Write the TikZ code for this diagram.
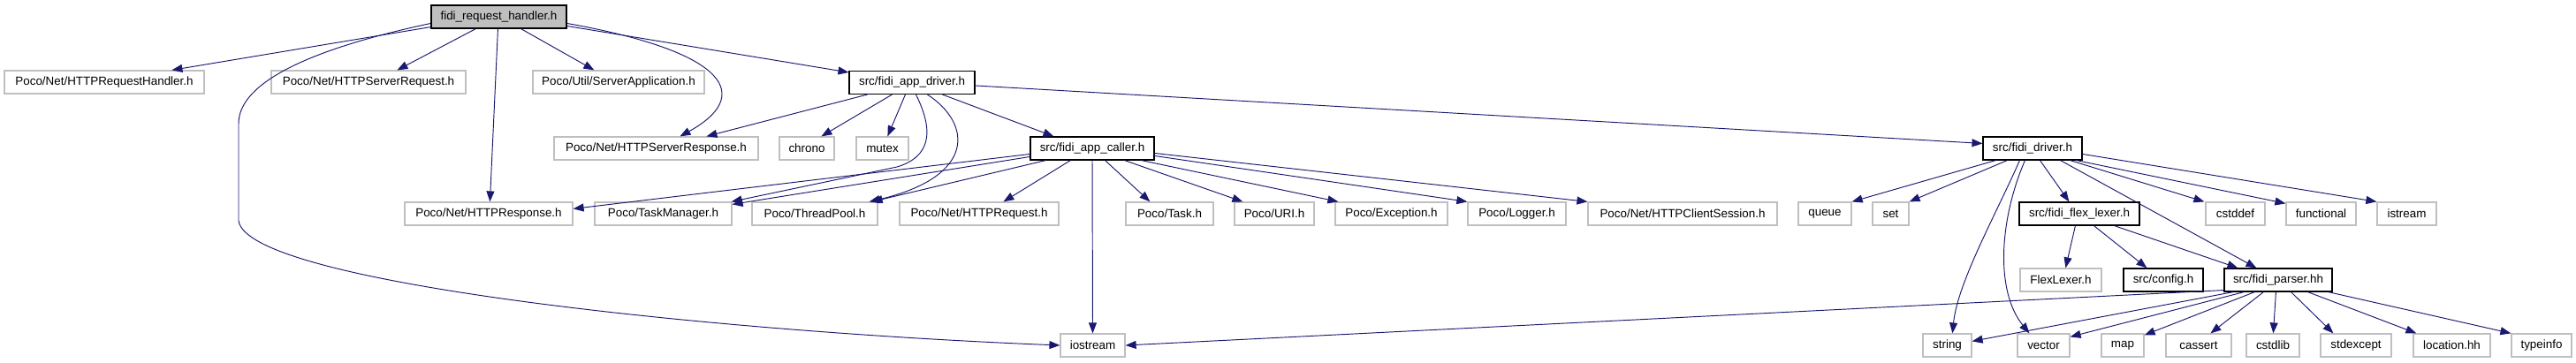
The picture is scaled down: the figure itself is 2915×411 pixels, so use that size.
\documentclass[tikz,border=0pt]{standalone}
\usepackage{fontspec}
\setmainfont{Liberation Sans}
\usetikzlibrary{arrows.meta}
\definecolor{edgec}{HTML}{191970}
\definecolor{greyb}{HTML}{BFBFBF}
\begin{document}
\begin{tikzpicture}[x=1pt,y=-1pt,
  ext/.style={draw=greyb,line width=1.2pt,fill=white,minimum height=26pt,inner sep=0pt,font=\fontsize{13.4}{16}\selectfont},
  int/.style={ext,draw=black,line width=1.1pt},
  rootn/.style={int,fill=greyb},
  e/.style={draw=edgec,line width=0.95pt,-{Triangle[length=12pt,width=9pt]}}]
\useasboundingbox (0,0) rectangle (2915,411);
% row 1
\node[rootn,minimum width=153pt] (root) at (564.5,19) {fidi\_request\_handler.h};
% row 2
\node[ext,minimum width=226pt] (hrh) at (118,93) {Poco/Net/HTTPRequestHandler.h};
\node[ext,minimum width=220pt] (hsreq) at (417,93) {Poco/Net/HTTPServerRequest.h};
\node[ext,minimum width=194pt] (sapp) at (700,93) {Poco/Util/ServerApplication.h};
\node[int,minimum width=142pt] (appdrv) at (1032,93.5) {src/fidi\_app\_driver.h};
% row 3
\node[ext,minimum width=231pt] (hsresp) at (742.5,168) {Poco/Net/HTTPServerResponse.h};
\node[ext,minimum width=62pt] (chrono) at (913,168) {chrono};
\node[ext,minimum width=59pt] (mutex) at (998.5,168) {mutex};
\node[int,minimum width=140pt] (caller) at (1236,168) {src/fidi\_app\_caller.h};
\node[int,minimum width=112pt] (driver) at (2300,168) {src/fidi\_driver.h};
% row 4
\node[ext,minimum width=190pt] (hresp) at (553,242) {Poco/Net/HTTPResponse.h};
\node[ext,minimum width=155pt] (taskmgr) at (750.5,242) {Poco/TaskManager.h};
\node[ext,minimum width=142pt] (threadpool) at (922,242) {Poco/ThreadPool.h};
\node[ext,minimum width=180pt] (hreq) at (1108,242) {Poco/Net/HTTPRequest.h};
\node[ext,minimum width=99pt] (task) at (1323.5,242) {Poco/Task.h};
\node[ext,minimum width=90pt] (uri) at (1442,242) {Poco/URI.h};
\node[ext,minimum width=127pt] (exc) at (1574.5,242) {Poco/Exception.h};
\node[ext,minimum width=111pt] (logger) at (1716.5,242) {Poco/Logger.h};
\node[ext,minimum width=214pt] (hcs) at (1904,242) {Poco/Net/HTTPClientSession.h};
\node[ext,minimum width=60pt] (queue) at (2065,242) {queue};
\node[ext,minimum width=41pt] (set) at (2139.5,242) {set};
\node[int,minimum width=136pt] (flex) at (2353,242) {src/fidi\_flex\_lexer.h};
\node[ext,minimum width=67pt] (cstddef) at (2529.5,242) {cstddef};
\node[ext,minimum width=79pt] (functional) at (2626.5,242) {functional};
\node[ext,minimum width=67pt] (istream) at (2723.5,242) {istream};
% row 5
\node[ext,minimum width=92pt] (flexlexer) at (2332,317) {FlexLexer.h};
\node[int,minimum width=90pt] (config) at (2448,317) {src/config.h};
\node[int,minimum width=122pt] (parser) at (2578,317) {src/fidi\_parser.hh};
% row 6
\node[ext,minimum width=73pt] (iostream) at (1236.5,391) {iostream};
\node[ext,minimum width=55pt] (string) at (2203.5,391) {string};
\node[ext,minimum width=59pt] (vector) at (2312.5,391) {vector};
\node[ext,minimum width=48pt] (map) at (2402,391) {map};
\node[ext,minimum width=74pt] (cassert) at (2488,391) {cassert};
\node[ext,minimum width=60pt] (cstdlib) at (2572,391) {cstdlib};
\node[ext,minimum width=80pt] (stdexcept) at (2666,391) {stdexcept};
\node[ext,minimum width=87pt] (location) at (2774.5,391) {location.hh};
\node[ext,minimum width=68pt] (typeinfo) at (2876,391) {typeinfo};

% edges from root
\draw[e] ([yshift=2pt]root.south west) -- ([xshift=190pt]hrh.north west);
\draw[e] ([xshift=51pt]root.south west) -- ([xshift=143pt]hsreq.north west);
\draw[e] ([xshift=76pt]root.south west) -- ([xshift=97pt]hresp.north west);
\draw[e] ([xshift=102pt]root.south west) -- ([xshift=70pt]sapp.north west);
\draw[e] ([yshift=-24pt]root.north east) -- ([yshift=-2pt]appdrv.north west);
\draw[e] ([yshift=-21pt]root.north east) .. controls (830,60) and (850,110) .. ([xshift=143pt]hsresp.north west);
\draw[e] ([yshift=-21pt]root.north west) .. controls (330,60) and (270,100) .. (270,140) -- (270,250) .. controls (280,320) and (800,375) .. (iostream.west);
% edges from app driver
\draw[e] ([xshift=21pt]appdrv.south west) -- ([xshift=173pt]hsresp.north west);
\draw[e] ([xshift=49pt]appdrv.south west) -- ([xshift=48pt]chrono.north west);
\draw[e] ([xshift=64pt]appdrv.south west) -- ([xshift=36pt]mutex.north west);
\draw[e] ([xshift=76pt]appdrv.south west) .. controls (1058,150) and (1052,178) .. (1015,189) -- ([xshift=-1pt]taskmgr.north east);
\draw[e] ([xshift=89pt]appdrv.south west) .. controls (1100,140) and (1105,200) .. ([xshift=-10pt]threadpool.north east);
\draw[e] ([xshift=106pt]appdrv.south west) -- ([xshift=27pt]caller.north west);
\draw[e] ([yshift=-17pt]appdrv.north east) -- ([yshift=-8pt]driver.north west);
% edges from app caller
\draw[e] ([yshift=-20pt]caller.north west) -- ([yshift=-8pt]hresp.north east);
\draw[e] ([yshift=-23pt]caller.north west) -- ([yshift=-3pt]taskmgr.north east);
\draw[e] ([xshift=18pt]caller.south west) -- ([xshift=-7pt]threadpool.north east);
\draw[e] ([xshift=46pt]caller.south west) -- ([xshift=118pt]hreq.north west);
\draw[e] (caller.south) -- (iostream.north);
\draw[e] ([xshift=85pt]caller.south west) -- ([xshift=28pt]task.north west);
\draw[e] ([xshift=107pt]caller.south west) -- ([xshift=10pt]uri.north west);
\draw[e] ([xshift=126pt]caller.south west) -- ([xshift=4pt]exc.north west);
\draw[e] ([yshift=-22pt]caller.north east) -- (logger.north west);
\draw[e] ([yshift=-19pt]caller.north east) -- (hcs.north west);
% edges from driver
\draw[e] ([xshift=15pt]driver.south west) -- (queue.north east);
\draw[e] ([xshift=28pt]driver.south west) -- (set.north east);
\draw[e] ([xshift=42pt]driver.south west) .. controls (2260,240) and (2215,320) .. ([xshift=34pt]string.north west);
\draw[e] ([xshift=48pt]driver.south west) .. controls (2262,250) and (2258,330) .. ([xshift=14pt]vector.north west);
\draw[e] ([xshift=65pt]driver.south west) -- ([xshift=57pt]flex.north west);
\draw[e] ([xshift=88pt]driver.south west) -- ([xshift=37pt]parser.north west);
\draw[e] ([xshift=99pt]driver.south west) -- ([xshift=-1pt]cstddef.north west);
\draw[e] ([xshift=106pt]driver.south west) -- ([yshift=-2pt]functional.north west);
\draw[e] ([yshift=-20pt]driver.north east) -- (istream.north west);
% edges from flex lexer
\draw[e] ([xshift=64pt]flex.south west) -- ([xshift=52pt]flexlexer.north west);
\draw[e] ([xshift=85pt]flex.south west) -- ([xshift=27pt]config.north west);
\draw[e] ([xshift=108pt]flex.south west) -- ([xshift=16pt]parser.north west);
% edges from parser
\draw[e] ([yshift=2pt]parser.south west) -- (iostream.east);
\draw[e] ([xshift=11pt]parser.south west) -- ([yshift=-9pt]string.north east);
\draw[e] ([xshift=23pt]parser.south west) -- ([yshift=-4pt]vector.north east);
\draw[e] ([xshift=35pt]parser.south west) -- ([yshift=-2pt]map.north east);
\draw[e] ([xshift=45pt]parser.south west) -- ([xshift=51pt]cassert.north west);
\draw[e] ([xshift=59pt]parser.south west) -- ([xshift=31pt]cstdlib.north west);
\draw[e] ([xshift=76pt]parser.south west) -- ([xshift=15pt]stdexcept.north west);
\draw[e] ([xshift=95pt]parser.south west) -- ([xshift=4pt]location.north west);
\draw[e] ([xshift=118pt]parser.south west) -- (typeinfo.north west);
\end{tikzpicture}
\end{document}
